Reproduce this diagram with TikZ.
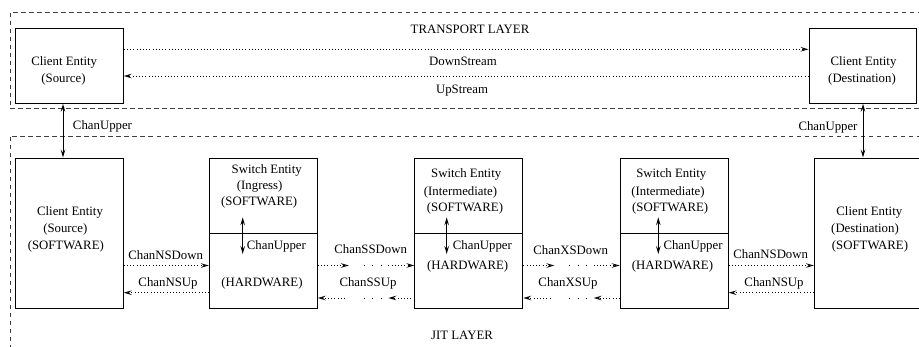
\documentclass[tikz,border=0pt]{standalone}
\usepackage{fontspec}
\setmainfont{Liberation Serif}
\usetikzlibrary{arrows.meta,calc}

\begin{document}
\begin{tikzpicture}[x=1pt,y=-1pt,
  >={Stealth[open,length=8pt,width=4.6pt,inset=3pt]},
  lbl/.style={font=\fontsize{12.8}{16.6}\selectfont, inner sep=0pt, text height=9pt, text depth=3pt},
  entity/.style={draw, line width=0.95pt, inner sep=0pt, minimum width=108pt},
  layer/.style={draw=black!75, line width=0.8pt, dash pattern=on 4.5pt off 3.5pt},
  flow/.style={line width=0.7pt, dash pattern=on 0.7pt off 2.5pt, ->},
  gap/.style={line width=0.9pt, dash pattern=on 0.9pt off 7.5pt},
  updown/.style={line width=0.9pt, <->},
]
\useasboundingbox (0,0) rectangle (919,346);
\clip (0,0) rectangle (919,346);

% layer frames
\draw[layer] (10,12.7) rectangle (930,108.7);
\draw[layer] (10,136.5) rectangle (930,360);
\node[lbl] (tlayer) at (470,30) {TRANSPORT LAYER};
\node[lbl] (jlayer) at (462,336.7) {JIT LAYER};

% transport layer entities
\node[entity, minimum height=75.3pt] (srcT) at (69.3,65.65) {};
\node[entity, minimum width=107.7pt, minimum height=75.3pt] (dstT) at (862.85,65.65) {};
\node[lbl] (srcT1) at (64.2,62) {Client Entity};
\node[lbl] (srcT2) at (63.5,79) {(Source)};
\node[lbl] (dstT1) at (863.5,62) {Client Entity};
\node[lbl] (dstT2) at (862,79) {(Destination)};

\draw[flow] ([yshift=16.35pt]srcT.east) -- ([yshift=16.35pt]dstT.west);
\draw[flow] ([yshift=-10.35pt]dstT.west) -- ([yshift=-10.35pt]srcT.east);
\node[lbl] (down) at (463,62) {DownStream};
\node[lbl] (up) at (462,90) {UpStream};

% JIT layer entities
\node[entity, minimum height=150.3pt] (srcJ) at (69.3,233.15) {};
\node[entity, minimum height=150.3pt] (dstJ) at (868.3,233.15) {};
\node[lbl] (srcJ1) at (70,212.7) {Client Entity};
\node[lbl] (srcJ2) at (65.3,229.3) {(Source)};
\node[lbl] (srcJ3) at (65.8,246.7) {(SOFTWARE)};
\node[lbl] (dstJ1) at (869.3,212.7) {Client Entity};
\node[lbl] (dstJ2) at (865,229.3) {(Destination)};
\node[lbl] (dstJ3) at (870,246.7) {(SOFTWARE)};

% switch entities: software half above, hardware half below
\node[entity, minimum height=75.3pt] (ingSW) at (263.3,195.65) {};
\node[entity, minimum height=75pt] (ingHW) at (263.3,270.8) {};
\node[entity, minimum height=75.3pt] (intASW) at (468.85,195.65) {};
\node[entity, minimum height=75pt] (intAHW) at (468.85,270.8) {};
\node[entity, minimum height=75.3pt] (intBSW) at (674.15,195.65) {};
\node[entity, minimum height=75pt] (intBHW) at (674.15,270.8) {};

\node[lbl] (ing1) at (266.7,170) {Switch Entity};
\node[lbl] (ing2) at (259.7,186.7) {(Ingress)};
\node[lbl] (ing3) at (259.2,202.7) {(SOFTWARE)};
\node[lbl] (ing4) at (262,283.3) {(HARDWARE)};
\node[lbl] (intA1) at (466.2,174.3) {Switch Entity};
\node[lbl] (intA2) at (460.5,192) {(Intermediate)};
\node[lbl] (intA3) at (465,208) {(SOFTWARE)};
\node[lbl] (intA4) at (467.7,266.7) {(HARDWARE)};
\node[lbl] (intB1) at (671.3,174.3) {Switch Entity};
\node[lbl] (intB2) at (668,192) {(Intermediate)};
\node[lbl] (intB3) at (670.2,208) {(SOFTWARE)};
\node[lbl] (intB4) at (672.5,266.7) {(HARDWARE)};

% software/hardware channels inside the switches
\coordinate (ingA) at (242.7,217.3);  \coordinate (ingB) at (242.7,254);
\coordinate (intAA) at (446.7,217.3); \coordinate (intAB) at (446.7,254);
\coordinate (intBA) at (658.3,217.3); \coordinate (intBB) at (658.3,254);
\draw[updown] (ingA) -- (ingB);
\draw[updown] (intAA) -- (intAB);
\draw[updown] (intBA) -- (intBB);
\node[lbl, anchor=west] (ingCU) at (246.7,246.7) {ChanUpper};
\node[lbl, anchor=west] (intACU) at (452.7,246.3) {ChanUpper};
\node[lbl, anchor=west] (intBCU) at (663.3,246.7) {ChanUpper};

% channels between the layers
\coordinate (vL) at (63,0);
\coordinate (vR) at (863,0);
\draw[updown] (srcT.south -| vL) -- (srcJ.north -| vL);
\draw[updown] (dstT.south -| vR) -- (dstJ.north -| vR);
\node[lbl] (cuL) at (102.5,126.7) {ChanUpper};
\node[lbl] (cuR) at (828,127) {ChanUpper};

% channel rows
\coordinate (rowDn) at (0,265.5);
\coordinate (rowUp) at (0,292.7);
\coordinate (rowUpS) at (0,298);

% client <-> ingress
\draw[flow] (srcJ.east |- rowDn) -- (ingHW.west |- rowDn);
\draw[flow] (ingHW.west |- rowUp) -- (srcJ.east |- rowUp);
\node[lbl] (nsdL) at (165.7,256) {ChanNSDown};
\node[lbl] (nsuL) at (168,283.3) {ChanNSUp};

% ingress <-> intermediate
\draw[flow] (ingHW.east |- rowDn) -- ++(31,0);
\draw[gap] ($(ingHW.east |- rowDn)+(46,0)$) -- ++(18,0);
\draw[flow] ($(intAHW.west |- rowDn)+(-26,0)$) -- (intAHW.west |- rowDn);
\draw[flow] ($(ingHW.east |- rowUpS)+(27,0)$) -- (ingHW.east |- rowUpS);
\draw[gap] ($(ingHW.east |- rowUpS)+(46,0)$) -- ++(18,0);
\draw[flow] (intAHW.west |- rowUpS) -- ++(-26,0);
\node[lbl] (ssd) at (370.7,250.7) {ChanSSDown};
\node[lbl] (ssu) at (368,283.3) {ChanSSUp};

% intermediate <-> intermediate
\draw[flow] (intAHW.east |- rowDn) -- ++(31,0);
\draw[gap] ($(intAHW.east |- rowDn)+(46,0)$) -- ++(18,0);
\draw[flow] ($(intBHW.west |- rowDn)+(-26,0)$) -- (intBHW.west |- rowDn);
\draw[flow] ($(intAHW.east |- rowUpS)+(27,0)$) -- (intAHW.east |- rowUpS);
\draw[gap] ($(intAHW.east |- rowUpS)+(46,0)$) -- ++(18,0);
\draw[flow] (intBHW.west |- rowUpS) -- ++(-26,0);
\node[lbl] (xsd) at (570.7,251) {ChanXSDown};
\node[lbl] (xsu) at (568,283.3) {ChanXSUp};

% intermediate <-> client
\draw[flow] (intBHW.east |- rowDn) -- (dstJ.west |- rowDn);
\draw[flow] (dstJ.west |- rowUp) -- (intBHW.east |- rowUp);
\node[lbl] (nsdR) at (770.7,255) {ChanNSDown};
\node[lbl] (nsuR) at (774,283.3) {ChanNSUp};
\end{tikzpicture}
\end{document}
